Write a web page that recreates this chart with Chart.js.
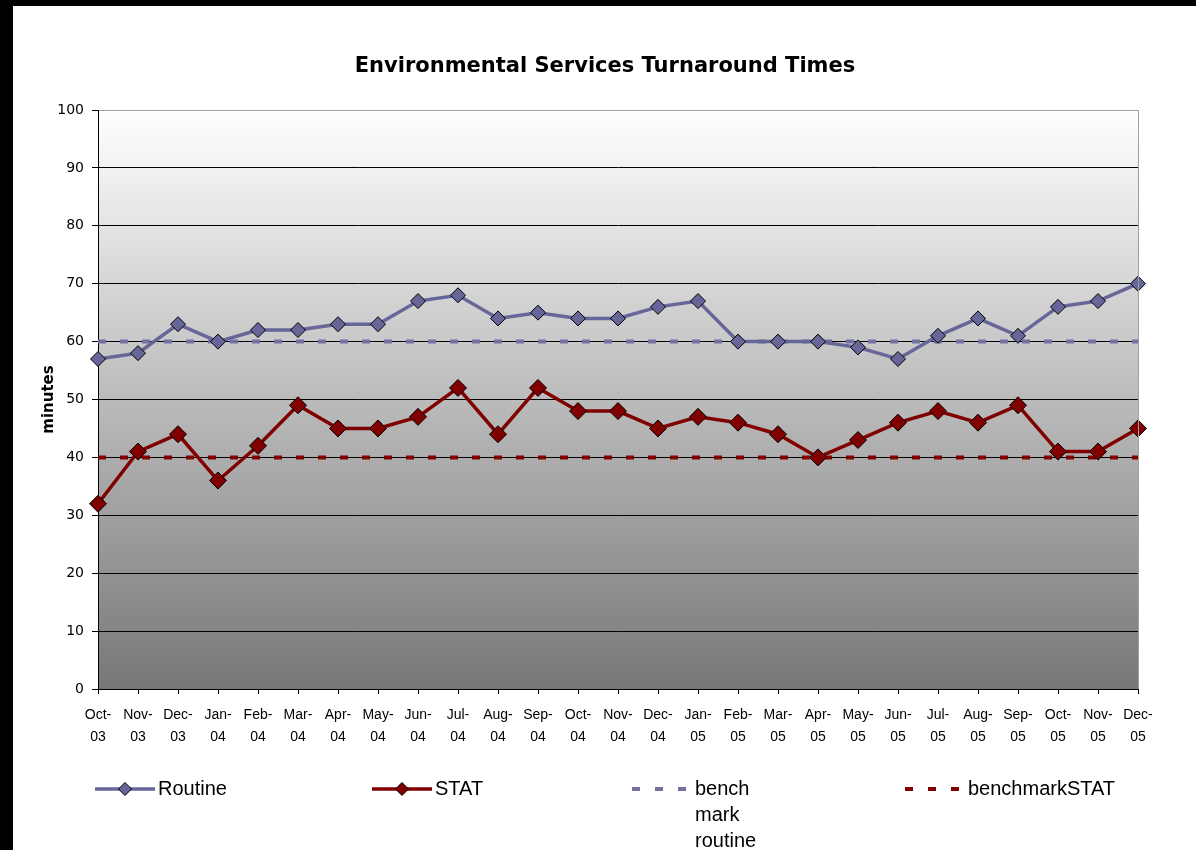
<!DOCTYPE html>
<html>
<head>
<meta charset="utf-8">
<title>Environmental Services Turnaround Times</title>
<script src="https://cdn.jsdelivr.net/npm/chart.js@4/dist/chart.umd.min.js"></script>
<style>
  html, body { margin: 0; padding: 0; background: #000; width: 1196px; height: 850px; overflow: hidden; }
  #wrap { position: absolute; left: 13px; top: 6px; width: 1183px; height: 844px; background: #fff; }
  canvas { display: block; }
</style>
</head>
<body>
<div id="wrap"><canvas id="chart" width="1183" height="844"></canvas></div>
<script>
// Monthly categories (label is split at the hyphen onto two lines)
const months = [
  'Oct-03', 'Nov-03', 'Dec-03', 'Jan-04', 'Feb-04', 'Mar-04', 'Apr-04', 'May-04', 'Jun-04',
  'Jul-04', 'Aug-04', 'Sep-04', 'Oct-04', 'Nov-04', 'Dec-04', 'Jan-05', 'Feb-05', 'Mar-05',
  'Apr-05', 'May-05', 'Jun-05', 'Jul-05', 'Aug-05', 'Sep-05', 'Oct-05', 'Nov-05', 'Dec-05'
];

// Turnaround times in minutes
const routine = [57, 58, 63, 60, 62, 62, 63, 63, 67, 68, 64, 65, 64, 64, 66, 67, 60, 60, 60, 59, 57, 61, 64, 61, 66, 67, 70];
const stat    = [32, 41, 44, 36, 42, 49, 45, 45, 47, 52, 44, 52, 48, 48, 45, 47, 46, 44, 40, 43, 46, 48, 46, 49, 41, 41, 45];

// Benchmarks
const benchRoutine = [60, 60, 60, 60, 60, 60, 60, 60, 60, 60, 60, 60, 60, 60, 60, 60, 60, 60, 60, 60, 60, 60, 60, 60, 60, 60, 60];
const benchStat    = [40, 40, 40, 40, 40, 40, 40, 40, 40, 40, 40, 40, 40, 40, 40, 40, 40, 40, 40, 40, 40, 40, 40, 40, 40, 40, 40];

// Y axis ticks
const yTicks = [0, 10, 20, 30, 40, 50, 60, 70, 80, 90, 100];

const chartTitle = 'Environmental Services Turnaround Times';
const yTitle = 'minutes';

const ROUTINE_COLOR = '#666699';
const STAT_COLOR = '#800000';

// Gradient plot background and grey right border
const plotBackground = {
  id: 'plotBackground',
  beforeDraw(chart) {
    const { ctx, chartArea: a } = chart;
    const g = ctx.createLinearGradient(0, a.top, 0, a.bottom);
    g.addColorStop(0, '#ffffff');
    g.addColorStop(1, '#777777');
    ctx.save();
    ctx.fillStyle = g;
    ctx.fillRect(a.left, a.top, a.right - a.left, a.bottom - a.top);
    ctx.restore();
  },
  afterDraw(chart) {
    const { ctx, chartArea: a } = chart;
    ctx.save();
    ctx.strokeStyle = '#a0a0a0';
    ctx.lineWidth = 1;
    ctx.beginPath();
    ctx.moveTo(Math.round(a.right) + 0.5, a.top);
    ctx.lineTo(Math.round(a.right) + 0.5, a.bottom);
    ctx.stroke();
    ctx.restore();
  }
};

// Chart heading
const heading = {
  id: 'heading',
  afterDraw(chart) {
    const { ctx } = chart;
    ctx.save();
    ctx.font = 'bold 21px "DejaVu Sans"';
    ctx.fillStyle = '#000';
    ctx.textAlign = 'center';
    ctx.textBaseline = 'middle';
    ctx.fillText(chartTitle, 592, 61);
    ctx.restore();
  }
};

// Legend laid out in four columns below the axis
const legendColumns = [82, 359, 619, 892];
const bottomLegend = {
  id: 'bottomLegend',
  afterDraw(chart) {
    const { ctx } = chart;
    const y = 783;
    const lineH = 26;
    const wrapWidth = 90;
    ctx.save();
    ctx.font = '20px "Liberation Sans"';
    ctx.textBaseline = 'middle';
    ctx.textAlign = 'left';
    chart.data.datasets.forEach((ds, i) => {
      const x0 = legendColumns[i];
      // sample line
      ctx.save();
      ctx.strokeStyle = ds.borderColor;
      ctx.lineWidth = ds.borderWidth;
      ctx.setLineDash(ds.borderDash ? [8, 15] : []);
      ctx.beginPath();
      ctx.moveTo(x0, y);
      ctx.lineTo(x0 + 60, y);
      ctx.stroke();
      ctx.restore();
      // marker
      if (ds.pointRadius > 0) {
        const r = 6.5;
        ctx.save();
        ctx.fillStyle = ds.pointBackgroundColor;
        ctx.strokeStyle = ds.pointBorderColor;
        ctx.lineWidth = 1;
        ctx.beginPath();
        ctx.moveTo(x0 + 30 - r, y);
        ctx.lineTo(x0 + 30, y - r);
        ctx.lineTo(x0 + 30 + r, y);
        ctx.lineTo(x0 + 30, y + r);
        ctx.closePath();
        ctx.fill();
        ctx.stroke();
        ctx.restore();
      }
      // label, word-wrapped to the column
      const words = ds.label.split(' ');
      const lines = [];
      let cur = '';
      words.forEach(w => {
        const test = cur ? cur + ' ' + w : w;
        if (cur && ctx.measureText(test).width > wrapWidth) {
          lines.push(cur);
          cur = w;
        } else {
          cur = test;
        }
      });
      if (cur) lines.push(cur);
      ctx.fillStyle = '#000';
      lines.forEach((ln, k) => ctx.fillText(ln, x0 + 63, y + k * lineH));
    });
    ctx.restore();
  }
};

new Chart(document.getElementById('chart'), {
  type: 'line',
  data: {
    labels: months,
    datasets: [
      {
        label: 'Routine',
        data: routine,
        borderColor: ROUTINE_COLOR,
        borderWidth: 3.5,
        pointStyle: 'rectRot',
        pointRadius: 7.5,
        pointBackgroundColor: ROUTINE_COLOR,
        pointBorderColor: '#000',
        pointBorderWidth: 1,
        tension: 0,
        clip: false
      },
      {
        label: 'STAT',
        data: stat,
        borderColor: STAT_COLOR,
        borderWidth: 3.5,
        pointStyle: 'rectRot',
        pointRadius: 8.5,
        pointBackgroundColor: STAT_COLOR,
        pointBorderColor: '#000',
        pointBorderWidth: 1,
        tension: 0,
        clip: false
      },
      {
        label: 'bench mark routine',
        data: benchRoutine,
        borderColor: '#7070a3',
        borderWidth: 4,
        borderDash: [8, 14],
        borderCapStyle: 'butt',
        pointRadius: 0,
        tension: 0,
        clip: false
      },
      {
        label: 'benchmarkSTAT',
        data: benchStat,
        borderColor: STAT_COLOR,
        borderWidth: 4,
        borderDash: [8, 14],
        borderCapStyle: 'butt',
        pointRadius: 0,
        tension: 0,
        clip: false
      }
    ]
  },
  options: {
    responsive: false,
    animation: false,
    events: [],
    layout: { padding: { top: 104, right: 58, left: 0, bottom: 0 } },
    plugins: {
      legend: { display: false },
      title: { display: false },
      tooltip: { enabled: false }
    },
    scales: {
      x: {
        offset: false,
        grid: {
          drawOnChartArea: false,
          drawTicks: true,
          tickLength: 5,
          color: '#000',
          tickColor: '#000'
        },
        border: { display: true, color: '#000', width: 1 },
        ticks: {
          autoSkip: false,
          maxRotation: 0,
          minRotation: 0,
          padding: 10,
          color: '#000',
          font: { family: '"Liberation Sans"', size: 14, lineHeight: '22px' },
          callback(value, index) {
            const s = months[index];
            const p = s.indexOf('-');
            return [s.slice(0, p + 1), s.slice(p + 1)];
          }
        },
        afterFit(scale) { scale.height = 161; }
      },
      y: {
        min: yTicks[0],
        max: yTicks[yTicks.length - 1],
        afterBuildTicks(scale) { scale.ticks = yTicks.map(v => ({ value: v })); },
        grid: {
          drawTicks: true,
          tickLength: 6,
          lineWidth: 1,
          color: ctx => (ctx.tick && ctx.tick.value === 100 ? '#a0a0a0' : '#000'),
          tickColor: '#000'
        },
        border: { display: true, color: '#000', width: 1 },
        ticks: {
          padding: 8,
          color: '#000',
          font: { family: '"DejaVu Sans"', size: 14 }
        },
        title: {
          display: true,
          text: yTitle,
          color: '#000',
          font: { family: '"DejaVu Sans"', size: 15, weight: 'bold' },
          padding: { top: 27, bottom: 0 }
        },
        afterFit(scale) { scale.width = 85; }
      }
    }
  },
  plugins: [plotBackground, heading, bottomLegend]
});
</script>
</body>
</html>
